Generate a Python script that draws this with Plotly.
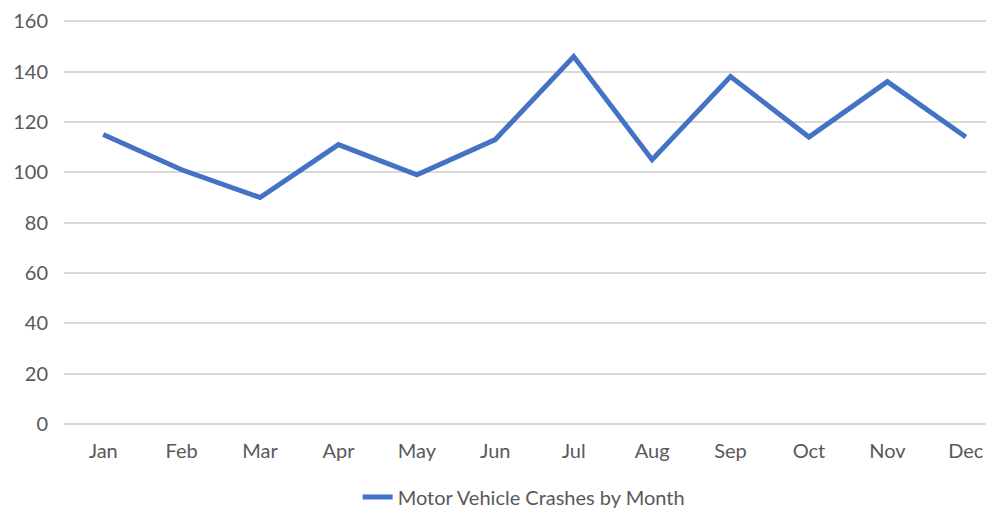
import plotly.graph_objects as go

# Monthly motor vehicle crash counts
months = ['Jan', 'Feb', 'Mar', 'Apr', 'May', 'Jun',
          'Jul', 'Aug', 'Sep', 'Oct', 'Nov', 'Dec']
crashes = [115, 101, 90, 111, 99, 113, 146, 105, 138, 114, 136, 114]
y_ticks = [0, 20, 40, 60, 80, 100, 120, 140, 160]

LINE_BLUE = '#4472C4'
GRID_GREY = '#D9D9D9'
TEXT_GREY = '#595959'
FONT = 'Lato, Noto Sans, sans-serif'

fig = go.Figure()

fig.add_trace(go.Scatter(
    x=months,
    y=crashes,
    mode='lines',
    name='Motor Vehicle Crashes by Month',
    line=dict(color=LINE_BLUE, width=5),
))

# page body has an 8px margin, so the figure is sized to fit the window
fig.update_layout(
    width=986,
    height=502,
    paper_bgcolor='white',
    plot_bgcolor='white',
    margin=dict(l=56, r=0, t=8, b=86),
    font=dict(family=FONT, size=20, color=TEXT_GREY),
    showlegend=True,
    legend=dict(
        orientation='h',
        xref='container', yref='container',
        x=0.523, y=0.026,
        xanchor='center', yanchor='middle',
        font=dict(family=FONT, size=20, color=TEXT_GREY),
        itemwidth=30,
    ),
    xaxis=dict(
        type='category',
        range=[-0.5, 11.36],
        showgrid=False,
        showline=False,
        zeroline=False,
        ticks='',
        ticklabelstandoff=13,
        tickfont=dict(family=FONT, size=20, color=TEXT_GREY),
    ),
    yaxis=dict(
        range=[0, 160.5],
        tickvals=y_ticks,
        showgrid=True,
        gridcolor=GRID_GREY,
        gridwidth=1.5,
        zeroline=True,
        zerolinecolor=GRID_GREY,
        zerolinewidth=1.5,
        showline=False,
        ticks='',
        ticklabelstandoff=15,
        ticklabeloverflow='allow',
        tickfont=dict(family=FONT, size=20, color=TEXT_GREY),
    ),
)

fig.write_html("out.html")
